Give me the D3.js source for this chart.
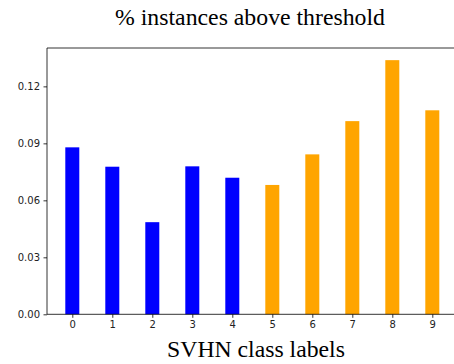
<!DOCTYPE html>
<html>
<head>
<meta charset="utf-8">
<script src="https://cdn.jsdelivr.net/npm/d3@7/dist/d3.min.js"></script>
<style>
  body { margin: 0; background: #fff; }
  svg { display: block; }
</style>
</head>
<body>
<svg id="chart" width="454" height="364"></svg>
<script>
'use strict';

var classLabels = [0, 1, 2, 3, 4, 5, 6, 7, 8, 9];
var fractions = [0.0879, 0.0777, 0.0485, 0.0779, 0.0719, 0.0681, 0.0842, 0.1017, 0.1338, 0.1074];
var barColors = ['blue', 'blue', 'blue', 'blue', 'blue', 'orange', 'orange', 'orange', 'orange', 'orange'];
var yTicks = [0.00, 0.03, 0.06, 0.09, 0.12];

var svg = d3.select('#chart');
var plotLeft = 47, plotTop = 48, plotBottom = 314.3, plotRight = 457.6;

// matplotlib style margins on x, 5% headroom on y
var x = d3.scaleLinear()
    .domain([-0.6325, 9.6325])
    .range([plotLeft, plotRight]);
var y = d3.scaleLinear()
    .domain([0, 0.1402])
    .range([plotBottom, plotTop]);
var barWidth = 0.35;

svg.selectAll('.bar')
    .data(classLabels)
    .enter().append('rect')
    .attr('class', 'bar')
    .attr('x', function(d) { return x(d - barWidth / 2); })
    .attr('width', function() { return x(barWidth) - x(0); })
    .attr('y', function(d, i) { return y(fractions[i]); })
    .attr('height', function(d, i) { return plotBottom - y(fractions[i]); })
    .attr('fill', function(d, i) { return barColors[i]; });

var xAxis = svg.append('g')
    .attr('transform', 'translate(0,' + plotBottom + ')')
    .call(d3.axisBottom(x).tickValues(classLabels).tickFormat(d3.format('d'))
        .tickSizeInner(3.5).tickSizeOuter(0).tickPadding(3.5));
var yAxis = svg.append('g')
    .attr('transform', 'translate(' + plotLeft + ',0)')
    .call(d3.axisLeft(y).tickValues(yTicks).tickFormat(d3.format('.2f'))
        .tickSizeInner(3.5).tickSizeOuter(0).tickPadding(3.5));

[xAxis, yAxis].forEach(function(g) {
    g.select('.domain').remove();
    g.selectAll('.tick line').attr('stroke', '#000').attr('stroke-width', 0.8);
    g.selectAll('.tick text')
        .attr('fill', '#222')
        .style('font-family', '"DejaVu Sans", sans-serif')
        .style('font-size', '10px');
});

// spines (right one falls outside the picture)
svg.append('path')
    .attr('d', 'M' + plotRight + ',' + plotBottom + 'H' + plotLeft + 'V' + plotTop + 'H' + plotRight)
    .attr('fill', 'none')
    .attr('stroke', '#000')
    .attr('stroke-width', 0.8);

// serif label, sized so its width matches the original
function serifLabel(str, cx, baseline, width) {
    var t = svg.append('text')
        .attr('x', cx)
        .attr('y', baseline)
        .attr('text-anchor', 'middle')
        .style('font-family', '"Liberation Serif", "Times New Roman", serif')
        .style('font-size', '20px')
        .text(str);
    var w = t.node().getComputedTextLength();
    t.style('font-size', (20 * width / w) + 'px');
    return t;
}

serifLabel('% instances above threshold', 250, 25, 270);
serifLabel('SVHN class labels', 256, 356.7, 178);
</script>
</body>
</html>
